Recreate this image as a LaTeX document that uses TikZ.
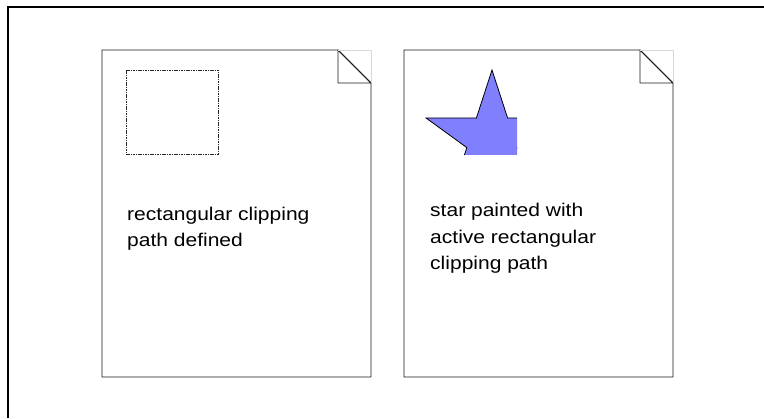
\documentclass[tikz,border=0pt]{standalone}
\usepackage{fontspec}
\setmainfont{Liberation Sans}
\usepackage{tkz-euclide}
\definecolor{starblue}{RGB}{128,128,255}

\begin{document}
\begin{tikzpicture}[x=1bp,y=1bp,
  page/.style={line width=0.9bp, draw=black!90},
  note/.style={anchor=base west, align=left, inner sep=0pt,
    font=\fontsize{18.5}{26.6}\selectfont, xscale=1.14}]

%% 画布范围
\useasboundingbox (0,0) rectangle (764,418);

% 外框:只露出左边和上边
\coordinate (P) at (7.7,0);
\coordinate (Q) at (7.7,411.3);
\coordinate (R) at (764,411.3);
\draw[line width=2bp] (P) -- (Q) -- (R);

%% 定义两张纸的顶点(a/b/<name>)
\tkzDefPoints{102/368/A, 338/368/B, 371/335/C, 371/41/D, 102/41/E, 338/335/F, 371/368/G}
\tkzDefPoints{404/368/H, 640/368/I, 673/335/J, 673/41/K, 404/41/L, 640/335/M, 673/368/N}

%% 纸张轮廓 + 折角
\tkzDrawPolygon[page](A,B,C,D,E)
\tkzDrawPolygon[page](B,F,C)
\draw[black!15] (B) -- (G) -- (C);
\tkzDrawPolygon[page](H,I,J,K,L)
\tkzDrawPolygon[page](I,M,J)
\draw[black!15] (I) -- (N) -- (J);

%% 左边:虚线矩形(裁剪路径)
\tkzDefPoints{126/348/S, 218/264/T}
\draw[black!85, line width=0.8bp, dash pattern=on 1.6bp off 0.8bp] (S) rectangle (T);

%% 右边:五角星, 只画出裁剪框里的部分
\tkzDefPoints{424/352/U, 517/264/V, 492/278.6/O}
\begin{scope}
  \clip (U) rectangle (V);
  \filldraw[fill=starblue, draw=black, line width=0.8bp, line join=miter]
    ([shift={(O)}]90:69.4)
    \foreach \a/\r in {126/26.5, 162/69.4, 198/26.5, 234/69.4, 270/26.5,
                       306/69.4, 342/26.5, 18/69.4, 54/26.5} {
      -- ([shift={(O)}]\a:\r)
    } -- cycle;
\end{scope}

%% 文字说明(base 取最后一行的基线)
\node[note] (t1) at (127,171.4) {rectangular clipping\\path defined};
\node[note] (t2) at (430,148.1) {star painted with\\active rectangular\\clipping path};

\end{tikzpicture}
\end{document}
